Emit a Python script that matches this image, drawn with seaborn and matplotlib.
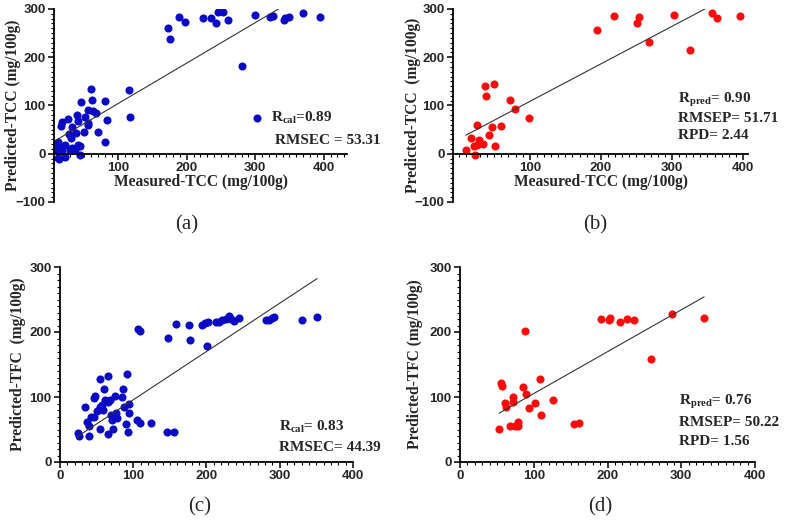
import numpy as np
import seaborn as sns
import matplotlib as mpl
import matplotlib.pyplot as plt
from matplotlib.ticker import MultipleLocator

# (a) TCC calibration set
tcc_cal_meas = [173, 176, 189, 198, 224, 236, 243, 246, 253, 260, 281, 300, 322, 326, 342, 344, 349, 369, 395,
                60, 115, 45, 62, 80, 56, 63, 68, 40, 51, 83, 117, 26, 18, 16, 32, 41, 55, 50, 71,
                28, 31, 81, 12, 7, 22, 41, 15, 32, 10, 18, 37, 44, 22, 12, 14, 56, 29, 44, 38]
tcc_cal_pred = [261, 238, 283, 273, 281, 281, 272, 294, 293, 277, 182, 288, 284, 286, 277, 281, 284, 291, 284,
                134, 132, 107, 112, 110, 90, 88, 85, 81, 76, 70, 77, 73, 66, 58, 55, 67, 60, 46, 45,
                41, 32, 24, 25, 21, 19, 18, 12, 12, 7, 5, 7, -2, -6, -9, -11, 63, 7, 17, 44]

# (b) TCC prediction set
tcc_val_meas = [10, 18, 21, 22.5, 26, 29, 26, 34, 43, 36.6, 49, 38, 47, 51, 60, 72.5, 79, 98.6,
                194, 218, 251, 254, 268, 303, 325, 357, 363, 396]
tcc_val_pred = [8, 32, 17, -2, 60, 29, 19, 21, 39, 141, 144, 119, 55, 16, 58, 112, 93, 74,
                256, 286, 271, 283, 231, 287, 216, 292, 281, 285]

# (c) TFC calibration set
tfc_cal_meas = [107, 109, 148, 159, 176, 178, 194, 198, 202, 201, 213, 217, 221, 226, 231, 234, 237, 245,
                281, 286, 290, 292, 331, 351,
                24, 26, 39, 34, 37, 40, 42, 46, 50, 46, 48, 54, 55, 55, 57, 59, 61, 60, 66, 65,
                68, 69, 71, 65, 73, 75, 76, 78, 84, 86, 87, 90, 92, 94, 94, 93, 105, 109, 124, 146, 156]
tfc_cal_pred = [205, 202, 191, 212, 211, 187, 211, 214, 216, 178, 215, 216, 218, 220, 225, 220, 217, 221,
                219, 219, 221, 223, 219, 223,
                44, 40, 40, 85, 62, 55, 69, 70, 79, 98, 102, 85, 128, 51, 87, 80, 96, 112, 133, 93,
                95, 72, 64, 43, 51, 102, 76, 67, 100, 113, 85, 59, 135, 89, 75, 46, 64, 60, 60, 46, 46]

# (d) TFC prediction set
tfc_val_meas = [53, 55.6, 57, 61, 62.4, 68, 71.5, 72, 75, 78, 79, 85, 88, 90, 94, 102, 109, 109.4, 126.6,
                154, 162, 191, 202.5, 203, 217, 227, 236, 258.5, 288, 331]
tfc_val_pred = [51, 121, 117, 91, 85, 55, 93, 100, 56, 55, 61, 116, 202, 105, 83, 91, 128, 73, 96,
                58, 60, 220, 219, 221, 216, 220, 219, 158, 228, 222]

# fitted lines (slope, intercept)
fit_tcc_cal = [0.837, 20.6]
fit_tcc_val = [0.778, 30.6]
fit_tfc_cal = [0.743, 21.4]
fit_tfc_val = [0.644, 40.9]

BLUE = '#0a0ac4'
RED = '#ff0a0a'

sns.set_theme(style="ticks")
plt.rcParams['font.family'] = ['Liberation Sans', 'DejaVu Sans']
mpl.rc('mathtext', fontset='custom', rm='Liberation Serif:bold', bf='Liberation Serif:bold',
       it='Liberation Serif:bold')

serif_lbl = dict(family='Liberation Serif', weight='bold', size=11.2)
serif_txt = dict(family='Liberation Serif', weight='bold', size=11)

fig = plt.figure(figsize=(7.89, 5.2), dpi=100)


def style_axis(ax, xlim, ylim, xticks, yticks, zero_axis=False):
    ax.set_xlim(*xlim)
    ax.set_ylim(*ylim)
    ax.set_xticks(xticks)
    ax.set_yticks(yticks)
    ax.xaxis.set_minor_locator(MultipleLocator(10))
    ax.yaxis.set_minor_locator(MultipleLocator(10))
    sns.despine(ax=ax)
    for s in ['left', 'bottom']:
        ax.spines[s].set_linewidth(1.3)
        ax.spines[s].set_color('black')
    if zero_axis:
        ax.spines['bottom'].set_position(('data', 0))
    ax.tick_params(which='major', length=4, width=1.1, color='black', pad=2)
    ax.tick_params(which='minor', length=2, width=0.8, color='black')
    for lab in ax.get_xticklabels() + ax.get_yticklabels():
        lab.set_fontweight('bold')
        lab.set_fontsize(9.5)
        lab.set_family('Liberation Sans')


def scatter_fit(ax, x, y, fit, color, label=None):
    x = np.array(x, float)
    y = np.array(y, float)
    sns.scatterplot(x=x, y=y, ax=ax, s=34, color=color, linewidth=0, label=label, legend=bool(label))
    xs = np.array([x.min(), x.max()])
    sns.lineplot(x=xs, y=fit[0] * xs + fit[1], ax=ax, color='#333333', lw=0.8)


# (a)
ax_a = fig.add_axes([54 / 789, 1 - 202 / 520, 293 / 789, 193 / 520])
scatter_fit(ax_a, tcc_cal_meas, tcc_cal_pred, fit_tcc_cal, BLUE, label=r'R$_{\mathbf{cal}}$=0.89')
style_axis(ax_a, (6, 434), (-100, 300), [100, 200, 300, 400], [-100, 0, 100, 200, 300], zero_axis=True)
ax_a.set_ylabel('Predicted-TCC (mg/100g)', **serif_lbl)
ax_a.yaxis.set_label_coords(-0.113, 0.5)
ax_a.set_xlabel('Measured-TCC (mg/100g)', **serif_lbl, labelpad=0)
ax_a.legend(loc='center left', bbox_to_anchor=(0.667, 0.435), frameon=False, handlelength=1.0,
            handletextpad=0.4, borderpad=0, borderaxespad=0, prop=serif_txt)
ax_a.text(0.754, 0.321, 'RMSEC = 53.31', transform=ax_a.transAxes, va='center', ha='left', **serif_txt)

# (b)
ax_b = fig.add_axes([453 / 789, 1 - 202 / 520, 295 / 789, 193 / 520])
scatter_fit(ax_b, tcc_val_meas, tcc_val_pred, fit_tcc_val, RED)
style_axis(ax_b, (-8, 407), (-100, 300), [100, 200, 300, 400], [-100, 0, 100, 200, 300], zero_axis=True)
ax_b.set_ylabel('Predicted-TCC  (mg/100g)', **serif_lbl)
ax_b.yaxis.set_label_coords(-0.108, 0.5)
ax_b.set_xlabel('Measured-TCC (mg/100g)', **serif_lbl, labelpad=0)
for yy, t in zip([0.528, 0.435, 0.347], [r'R$_{\mathbf{pred}}$= 0.90', 'RMSEP= 51.71', 'RPD= 2.44']):
    ax_b.text(0.763, yy, t, transform=ax_b.transAxes, va='center', ha='left', **serif_txt)

# (c)
ax_c = fig.add_axes([60 / 789, 1 - 462 / 520, 293 / 789, 195 / 520])
scatter_fit(ax_c, tfc_cal_meas, tfc_cal_pred, fit_tfc_cal, BLUE)
style_axis(ax_c, (0, 400), (0, 300), [0, 100, 200, 300, 400], [0, 100, 200, 300])
ax_c.set_ylabel('Predicted-TFC  (mg/100g)', **serif_lbl)
ax_c.yaxis.set_label_coords(-0.116, 0.5)
for yy, t in zip([0.181, 0.075], [r'R$_{\mathbf{cal}}$= 0.83', 'RMSEC= 44.39']):
    ax_c.text(0.747, yy, t, transform=ax_c.transAxes, va='center', ha='left', **serif_txt)

# (d)
ax_d = fig.add_axes([460 / 789, 1 - 462 / 520, 295 / 789, 195 / 520])
scatter_fit(ax_d, tfc_val_meas, tfc_val_pred, fit_tfc_val, RED)
style_axis(ax_d, (0, 400), (0, 300), [0, 100, 200, 300, 400], [0, 100, 200, 300])
ax_d.set_ylabel('Predicted-TFC (mg/100g)', **serif_lbl)
ax_d.yaxis.set_label_coords(-0.125, 0.5)
for yy, t in zip([0.309, 0.204, 0.104], [r'R$_{\mathbf{pred}}$= 0.76', 'RMSEP= 50.22', 'RPD= 1.56']):
    ax_d.text(0.742, yy, t, transform=ax_d.transAxes, va='center', ha='left', **serif_txt)

for (px, py), lab in zip([(187, 225), (595, 225), (200, 507), (600, 507)], ['(a)', '(b)', '(c)', '(d)']):
    fig.text(px / 789, 1 - py / 520, lab, ha='center', va='center', family='Liberation Serif', size=15)

fig.savefig('out.png', dpi=100)
